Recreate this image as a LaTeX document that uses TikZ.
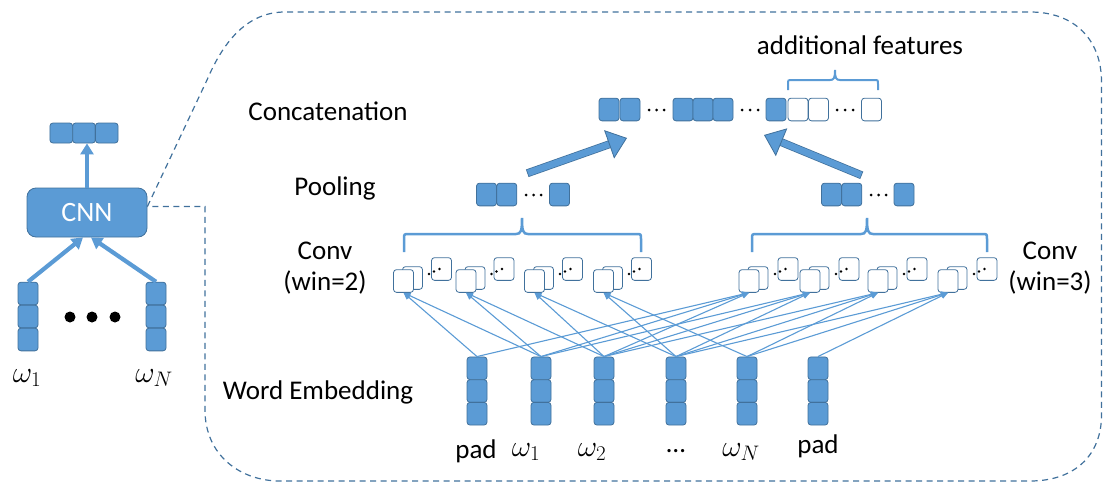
\documentclass[tikz,border=0pt]{standalone}
\usepackage{fix-cm}
\usepackage[no-math]{fontspec}
\setmainfont{Carlito}
\usetikzlibrary{arrows.meta}
\definecolor{bluef}{HTML}{5B9BD5}
\definecolor{bordc}{HTML}{41719C}
\begin{document}
\begin{tikzpicture}[x=1pt,y=-1pt,
 cell/.style={draw=bordc, fill=bluef, line width=0.8pt, rounded corners=3pt, minimum width=20pt, minimum height=22.7pt, inner sep=0pt},
 ecell/.style={cell, fill=white},
 vcell/.style={cell, minimum width=22.7pt, minimum height=20pt},
 lab/.style={font=\fontsize{27}{31}\selectfont, inner sep=0pt, align=center},
 wlab/.style={font=\fontsize{30}{34}\selectfont, inner sep=0pt},
 conn/.style={draw=bluef, line width=1.1pt, -{Triangle[length=7pt,width=6pt]}},
 fatarrow/.style={draw=bluef, line width=4.2pt, -{Triangle[length=11pt,width=13pt]}},
 bigarrow/.style={draw=bluef, line width=6.5pt, -{Triangle[length=19pt,width=30pt,line width=0.8pt,fill=bluef,color=bordc]}, preaction={draw=bordc, line width=8pt, -, shorten <=-0.8pt, shorten >=12pt}},
 brace/.style={draw=bluef, line width=2.5pt},
 outline/.style={draw=bordc, line width=1.2pt, dash pattern=on 6pt off 4.5pt},
]
\useasboundingbox (0,0) rectangle (1103,482);

% ---------- left part ----------
\node[cell, minimum width=120pt, minimum height=49pt, rounded corners=9pt, text=white, font=\fontsize{28}{32}\selectfont] (cnn) at (87,212.5) {CNN};
\node[vcell] (o1) at (61.3,133) {};
\node[vcell] (o2) at (84,133) {};
\node[vcell] (o3) at (106.7,133) {};
\draw[fatarrow] (cnn.north) -- (cnn.north |- o2.south);
\foreach \y/\n in {293.5/1,316.5/2,339.5/3}{
  \node[cell] (l\n) at (28,\y) {};
  \node[cell] (r\n) at (156,\y) {};
}
\draw[fatarrow] (l1.north) -- ([xshift=-4pt]cnn.south);
\draw[fatarrow] (r1.north) -- ([xshift=4pt]cnn.south);
\fill (70,317) circle (5.5);
\fill (92,317) circle (5.5);
\fill (115,317) circle (5.5);
\node[wlab] (w1l) at (27,378) {$\omega_1$};
\node[wlab] (wNl) at (154,378) {$\omega_N$};

% ---------- outline ----------
\draw[outline] ([yshift=6pt]cnn.east) -- (207,80) .. controls (222,45) and (245,12) .. (285,12) -- (1030,12) .. controls (1075,12) and (1101.5,40) .. (1101.5,82) -- (1101.5,415) .. controls (1101.5,455) and (1075,481) .. (1030,481) -- (280,481) .. controls (240,481) and (205,455) .. (205,410) -- (205,206.5) -- ([yshift=6pt]cnn.east);

% ---------- labels ----------
\node[lab] (tconcat) at (328,111) {Concatenation};
\node[lab] (tpool) at (335,188) {Pooling};
\node[lab] (tconv2) at (325,268) {Conv\\(win=2)};
\node[lab] (tconv3) at (1050,268) {Conv\\(win=3)};
\node[lab] (temb) at (318,392) {Word Embedding};
\node[lab] (tadd) at (860,45) {additional features};

% ---------- word embeddings ----------
\foreach \x [count=\i] in {477,541,604,676,747,818}{
  \node[cell] (e\i-t) at (\x,368.3) {};
  \node[cell] (e\i-m) at (\x,391) {};
  \node[cell] (e\i-b) at (\x,413.7) {};
}
\node[lab] (pad1) at (476,451) {pad};
\node[wlab] (we1) at (526,452) {$\omega_1$};
\node[wlab] (we2) at (592,452) {$\omega_2$};
\node[lab] (wdots) at (676,451) {…};
\node[wlab] (weN) at (741,452) {$\omega_N$};
\node[lab] (pad2) at (818,446) {pad};

% ---------- conv win=2 ----------
\foreach \x [count=\j] in {403.5,466,534.5,603.5}{
  \node[ecell] (cb\j) at (\x+9,278) {};
  \node[ecell] (cf\j) at (\x,281) {};
  \node[ecell] (ct\j) at (\x+38,269) {};
  \fill (\x+25.5,274) circle (1.4);
  \fill (\x+30.5,271.5) circle (1.4);
  \fill (\x+36,269) circle (1.4);
}
% ---------- conv win=3 ----------
\foreach \x [count=\j] in {749,810,878,948}{
  \node[ecell] (db\j) at (\x+9,278) {};
  \node[ecell] (df\j) at (\x,281) {};
  \node[ecell] (dt\j) at (\x+39,269) {};
  \fill (\x+26,274) circle (1.4);
  \fill (\x+31,271.5) circle (1.4);
  \fill (\x+36.5,269) circle (1.4);
}

% ---------- connectors ----------
\foreach \j in {1,...,4}{
  \pgfmathtruncatemacro\k{\j+1}
  \pgfmathtruncatemacro\m{\j+2}
  \draw[conn] (e\j-t.north) -- (cf\j.south);
  \draw[conn] (e\k-t.north) -- (cf\j.south);
  \draw[conn] (e\j-t.north) -- (df\j.south);
  \draw[conn] (e\k-t.north) -- (df\j.south);
  \draw[conn] (e\m-t.north) -- (df\j.south);
}

% ---------- braces ----------
\draw[brace] (404,252) -- (404,239) .. controls (404,234) .. (409,234) -- (516,234) .. controls (521,234) and (522,231) .. (522,218) .. controls (522,231) and (523,234) .. (528,234) -- (636,234) .. controls (641,234) .. (641,239) -- (641,252);
\draw[brace] (752,252) -- (752,239) .. controls (752,234) .. (757,234) -- (861,234) .. controls (866,234) and (867,231) .. (867,218) .. controls (867,231) and (868,234) .. (873,234) -- (982,234) .. controls (987,234) .. (987,239) -- (987,252);
\draw[brace, line width=2pt] (788,90) -- (788,84) .. controls (788,80) .. (792,80) -- (830,80) .. controls (834,80) and (835,78) .. (835,70) .. controls (835,78) and (836,80) .. (840,80) -- (874,80) .. controls (878,80) .. (878,84) -- (878,90);

% ---------- pooling ----------
\node[cell] (p1) at (486.5,194.5) {};
\node[cell] (p2) at (506.8,194.5) {};
\node[cell] (p3) at (559.5,194.5) {};
\foreach \x in {526,533.5,541} \fill (\x,195) circle (1.5);
\node[cell] (q1) at (831.5,194.5) {};
\node[cell] (q2) at (851.8,194.5) {};
\node[cell] (q3) at (904,194.5) {};
\foreach \x in {871,878.5,886} \fill (\x,195) circle (1.5);

% ---------- concatenation ----------
\node[cell] (k1) at (609,109.5) {};
\node[cell] (k2) at (630,109.5) {};
\node[cell] (k3) at (683,109.5) {};
\node[cell] (k4) at (703,109.5) {};
\node[cell] (k5) at (723,109.5) {};
\node[cell] (k6) at (776,109.5) {};
\node[ecell] (k7) at (798,109.5) {};
\node[ecell] (k8) at (818.5,109.5) {};
\node[ecell] (k9) at (871.5,109.5) {};
\foreach \x in {649,656.5,664,742,750,758,837,845,853} \fill (\x,110) circle (1.5);

% ---------- big arrows ----------
\coordinate (la0) at (528,173);
\coordinate (la1) at (627,138);
\coordinate (ra0) at (861,175);
\coordinate (ra1) at (764,135);
\draw[bigarrow] (la0) -- (la1);
\draw[bigarrow] (ra0) -- (ra1);
\end{tikzpicture}
\end{document}
